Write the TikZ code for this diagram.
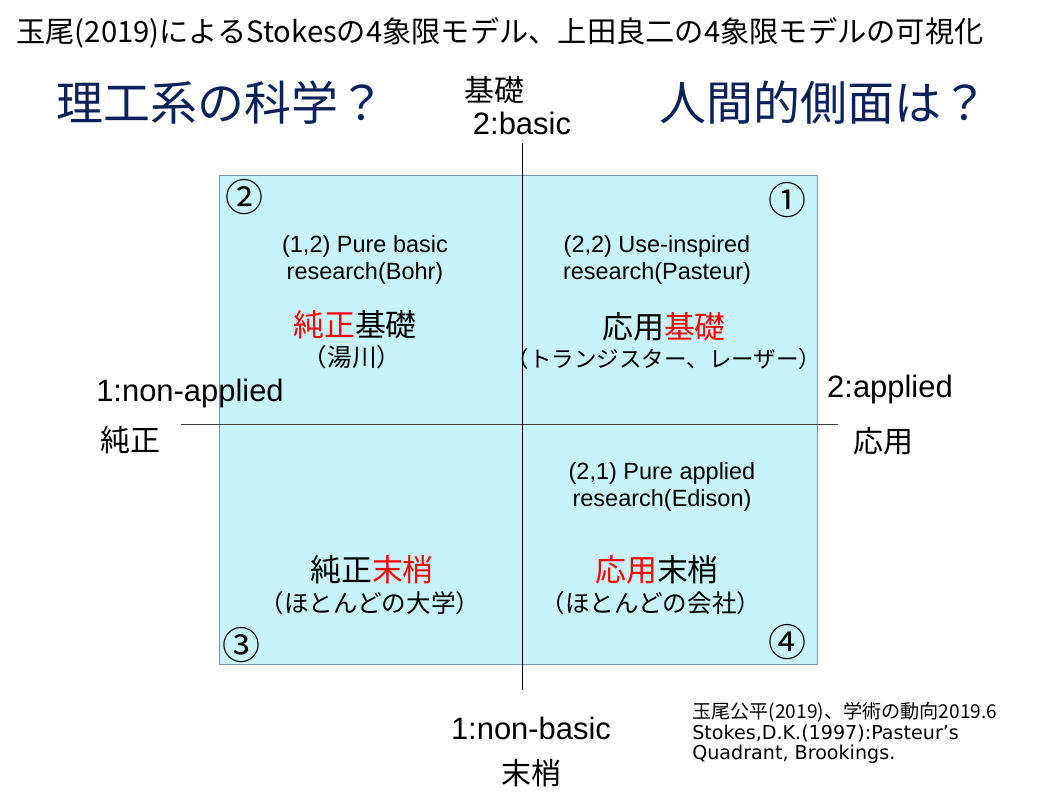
\documentclass[tikz,border=0pt]{standalone}
\usepackage{fontspec}
\setmainfont{Liberation Sans}
\newfontfamily\jpfont{Noto Sans CJK JP}
\newfontfamily\reffont{DejaVu Sans}
\usetikzlibrary{calc}

\definecolor{quadfill}{RGB}{200,243,250}
\definecolor{quadedge}{RGB}{125,145,165}
\definecolor{titleblue}{RGB}{12,32,90}

\tikzset{
	headline/.style={inner sep=0, font=\jpfont\fontsize{20.8pt}{25pt}\selectfont},
	bigq/.style={inner sep=0, text=titleblue, font=\jpfont\fontsize{33.4pt}{38pt}\selectfont},
	axislabel/.style={inner sep=0, font=\fontsize{22pt}{26pt}\selectfont},
	axisjp/.style={inner sep=0, font=\jpfont\fontsize{21.3pt}{25pt}\selectfont},
	desc/.style={inner sep=0, align=center, font=\fontsize{16.7pt}{19.2pt}\selectfont},
	quadname/.style={inner sep=0, font=\jpfont\fontsize{22pt}{26pt}\selectfont},
	quadsub/.style={inner sep=0, font=\jpfont\fontsize{17.5pt}{21pt}\selectfont},
	num/.style={inner sep=0, font=\jpfont\fontsize{27pt}{30pt}\selectfont},
	reftext/.style={inner sep=0, anchor=west, align=left, font=\reffont\fontsize{13.6pt}{14.4pt}\selectfont}
}

\begin{document}
\begin{tikzpicture}[x=0.025cm, y=-0.025cm]
			%%%%% START %%%%%
			\useasboundingbox (0, 0) rectangle (1059, 794);
			
			\node[headline] (title) at (500, 33) {玉尾(2019)によるStokesの4象限モデル、上田良二の4象限モデルの可視化};
			
			\node[bigq] (science) at (221, 103) {理工系の科学？};
			\node[bigq] (human) at (824, 103) {人間的側面は？};
			
			% quadrant box
			\draw[quadedge, fill=quadfill] (219, 175) rectangle (817, 664);
			
			% axes
			\coordinate (ytop) at (522, 143);
			\coordinate (ybot) at (522, 690);
			\coordinate (xleft) at (181, 424);
			\coordinate (xright) at (838, 424);
			\draw[black!75] (xleft) -- (xright);
			\draw (ytop) -- (ybot);
			
			% axis labels
			\node[axisjp] (kiso) at (494, 90) {基礎};
			\node[axislabel] (basic) at (522, 123) {2:basic};
			\node[axislabel] (nonbasic) at (531, 728) {1:non-basic};
			\node[axisjp] (masho) at (531, 773) {末梢};
			\node[axislabel] (nonapplied) at (190, 393) {1:non-applied};
			\node[axisjp] (junsei) at (130, 440) {純正};
			\node[axislabel] (applied) at (890, 389) {2:applied};
			\node[axisjp] (oyo) at (883, 441) {応用};
			
			% quadrant numbers
			\node[num] (n1) at (787, 200) {①};
			\node[num] (n2) at (244, 197) {②};
			\node[num] (n3) at (241, 645) {③};
			\node[num] (n4) at (787, 642) {④};
			
			% quadrant 2
			\node[desc] (bohr) at (365, 260) {(1,2) Pure basic\\research(Bohr)};
			\node[quadname] (junkiso) at (355, 325) {{\color{red}純正}基礎};
			\node[quadsub] (yukawa) at (352, 357) {（湯川）};
			
			% quadrant 1
			\node[desc] (pasteur) at (657, 260) {(2,2) Use-inspired\\research(Pasteur)};
			\node[quadname] (oyokiso) at (664, 327) {応用{\color{red}基礎}};
			\node[quadsub, font=\jpfont\fontsize{16pt}{20pt}\selectfont] (laser) at (664, 359) {（トランジスター、レーザー）};
			
			% quadrant 4
			\node[desc] (edison) at (662, 487) {(2,1) Pure applied\\research(Edison)};
			\node[quadname] (oyomasho) at (657, 570) {{\color{red}応用}末梢};
			\node[quadsub] (kaisha) at (651, 603) {（ほとんどの会社）};
			
			% quadrant 3
			\node[quadname] (junmasho) at (372, 570) {純正{\color{red}末梢}};
			\node[quadsub] (daigaku) at (370, 603) {（ほとんどの大学）};
			
			% source
			\node[reftext] (source) at (692, 733) {{\jpfont 玉尾公平(2019)、学術の動向2019.6}\\Stokes,D.K.(1997):Pasteur’s\\Quadrant, Brookings.};
			
			%%%%% END %%%%%
\end{tikzpicture}
\end{document}
